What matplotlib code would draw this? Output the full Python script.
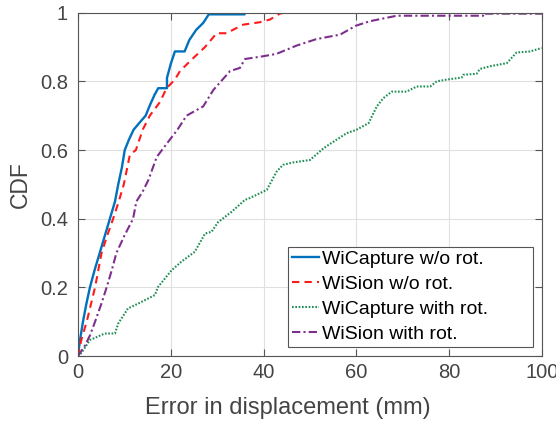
import matplotlib
matplotlib.use('Agg')
import matplotlib.pyplot as plt

# CDF knots: error (mm) and cumulative fraction
wicap_x = [0, 0.5, 1.1, 1.8, 2.6, 3.6, 4.7, 5.8, 6.9, 8.0, 8.7, 9.5, 10.1, 11.0, 12.0,
           13.5, 14.6, 15.5, 16.5, 17.3, 19.2, 19.2, 20.0, 20.9, 23.0, 24.0, 25.5, 27.0,
           28.2, 35.9, 36.0]
wicap_y = [0, 0.05, 0.10, 0.15, 0.20, 0.25, 0.30, 0.35, 0.40, 0.45, 0.50, 0.55, 0.60, 0.63, 0.659,
           0.683, 0.70, 0.73, 0.76, 0.78, 0.78, 0.81, 0.85, 0.887, 0.887, 0.92, 0.95, 0.97,
           0.995, 0.995, 1.0]

wision_x = [0, 0.8, 1.9, 2.8, 3.7, 4.4, 5.1, 6.3, 7.6, 8.8, 9.9, 11.2, 12.5, 14.0, 15.5,
            17.7, 19.1, 20.9, 22.0, 24.5, 27.4, 29.9, 32.0, 35.6, 39.2, 41.4, 43.5, 44.5]
wision_y = [0, 0.05, 0.10, 0.15, 0.20, 0.25, 0.30, 0.35, 0.40, 0.45, 0.50, 0.586, 0.60, 0.66, 0.70,
            0.74, 0.78, 0.805, 0.83, 0.863, 0.90, 0.94, 0.94, 0.965, 0.972, 0.98, 0.997, 1.0]

wicap_rot_x = [0, 0.8, 2.6, 5.8, 8.0, 8.7, 10.8, 13.0, 16.6, 17.3, 20.2, 22.3, 25.2, 27.4, 28.8,
               30.2, 33.1, 36.0, 37.0, 40.7, 42.8, 44.2, 46.4, 50.0, 52.9, 55.7, 57.9, 60.0,
               62.6, 64.4, 65.8, 67.6, 70.8, 73.0, 75.9, 77.3, 79.4, 82.7, 83.0, 85.9, 86.6,
               88.8, 92.4, 94.5, 97.4, 99.9]
wicap_rot_y = [0, 0.01, 0.047, 0.066, 0.066, 0.095, 0.139, 0.153, 0.178, 0.202, 0.25, 0.275, 0.304,
               0.357, 0.362, 0.39, 0.42, 0.455, 0.46, 0.484, 0.537, 0.557, 0.564, 0.571, 0.605,
               0.63, 0.649, 0.659, 0.678, 0.727, 0.751, 0.77, 0.77, 0.785, 0.785, 0.80, 0.805,
               0.811, 0.819, 0.822, 0.836, 0.844, 0.853, 0.884, 0.887, 0.897]

wision_rot_x = [0, 1.5, 2.6, 3.7, 5.0, 6.2, 7.3, 8.3, 10.0, 11.9, 12.6, 14.0, 15.2, 17.0, 19.8,
                21.5, 23.4, 27.0, 29.2, 32.8, 34.9, 36.0, 39.9, 42.8, 47.1, 51.4, 56.5, 59.9,
                62.9, 68.7, 87.3, 87.3, 100]
wision_rot_y = [0, 0.03, 0.06, 0.10, 0.15, 0.20, 0.25, 0.30, 0.35, 0.40, 0.45, 0.48, 0.513, 0.58,
                0.63, 0.66, 0.70, 0.727, 0.775, 0.83, 0.839, 0.865, 0.873, 0.88, 0.904, 0.923,
                0.936, 0.962, 0.975, 0.991, 0.991, 0.997, 0.997]

labels = ['WiCapture w/o rot.', 'WiSion w/o rot.', 'WiCapture with rot.', 'WiSion with rot.']

plt.rcParams['font.family'] = ['Liberation Sans', 'DejaVu Sans']
txt = '#444444'

fig = plt.figure(figsize=(5.56, 4.21), dpi=100)
ax = fig.add_axes([0.140, 0.154, 0.835, 0.816])

ax.plot(wicap_x, wicap_y, color='#0072BD', lw=1.7, ls='-', label=labels[0])
ax.plot(wision_x, wision_y, color='#FF1A1A', lw=1.5, ls=(0, (3.5, 2.5)), label=labels[1])
ax.plot(wicap_rot_x, wicap_rot_y, color='#1F8F55', lw=1.5, ls=(0, (0.8, 0.8)), label=labels[2])
ax.plot(wision_rot_x, wision_rot_y, color='#7E2F8E', lw=1.5, ls=(0, (4, 1.5, 1, 1.5)), label=labels[3])

ax.set_xlim(0, 100)
ax.set_ylim(0, 1)
ax.set_xticks([0, 20, 40, 60, 80, 100])
ax.set_yticks([0, 0.2, 0.4, 0.6, 0.8, 1])
ax.set_yticklabels(['0', '0.2', '0.4', '0.6', '0.8', '1'])
ax.grid(True, color='#e0e0e0', lw=0.8)
ax.set_axisbelow(True)
ax.tick_params(direction='in', top=True, right=True, labelsize=14.5, colors='#555555',
               labelcolor=txt, length=5, width=0.8)
ax.tick_params(axis='y', pad=7)
ax.tick_params(axis='x', pad=5)
for s in ax.spines.values():
    s.set_color('#555555')
    s.set_linewidth(0.8)

ax.set_xlabel('Error in displacement (mm)', fontsize=17, color=txt)
ax.xaxis.set_label_coords(0.453, -0.118)
ax.set_ylabel('CDF', fontsize=16.5, color=txt)
ax.yaxis.set_label_coords(-0.100, 0.5)

leg = ax.legend(loc='lower left', bbox_to_anchor=(0.4526, 0.0262, 0.528, 0.2857), mode='expand',
                borderaxespad=0, fontsize=14, fancybox=False, framealpha=1, edgecolor='#555555',
                handlelength=1.39, handletextpad=0.15, borderpad=0.2, labelspacing=0.38)
leg.get_frame().set_linewidth(0.8)
for t in leg.get_texts():
    t.set_color('black')

fig.savefig('out.png', dpi=100)
